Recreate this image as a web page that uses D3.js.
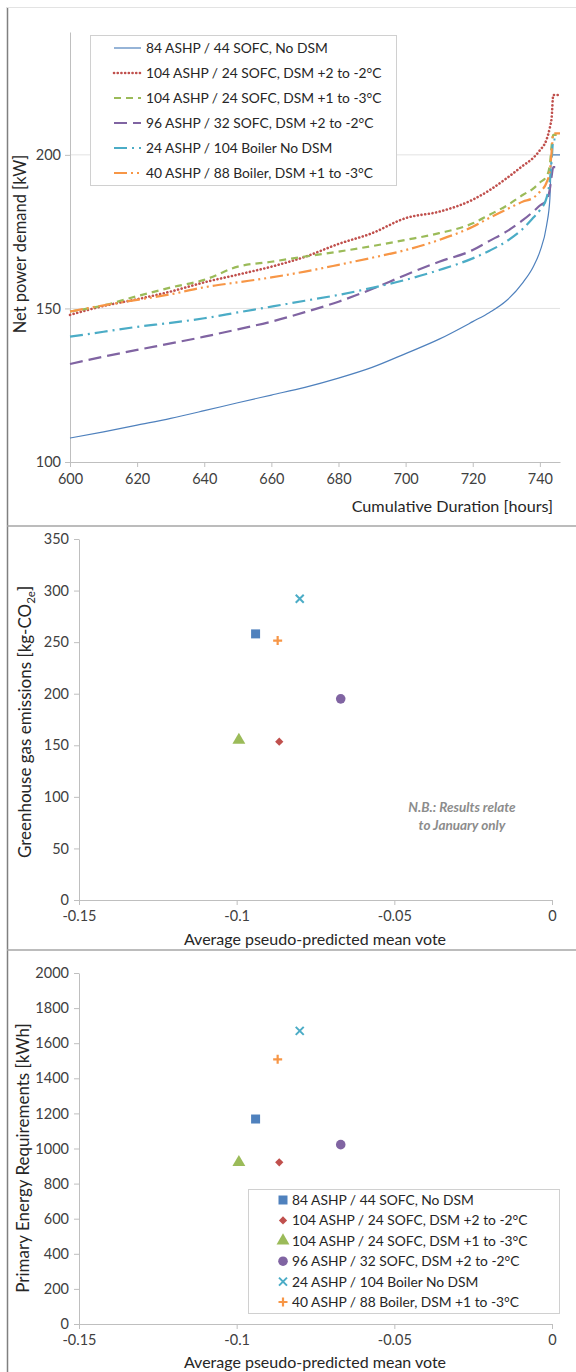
<!DOCTYPE html>
<html>
<head>
<meta charset="utf-8">
<script src="https://cdn.jsdelivr.net/npm/d3@7"></script>
<style>
  body { margin: 0; background: #fff; }
  svg { display: block; font-family: Lato, "Open Sans", sans-serif; }
</style>
</head>
<body>
<div id="chart"></div>
<script>
// series names (same order in all three panels)
var names = [
  "84 ASHP / 44 SOFC, No DSM",
  "104 ASHP / 24 SOFC, DSM +2 to -2\u00B0C",
  "104 ASHP / 24 SOFC, DSM +1 to -3\u00B0C",
  "96 ASHP / 32 SOFC, DSM +2 to -2\u00B0C",
  "24 ASHP / 104 Boiler No DSM",
  "40 ASHP / 88 Boiler, DSM +1 to -3\u00B0C"
];
var colors = ["#4F81BD", "#C0504D", "#9BBB59", "#8064A2", "#4BACC6", "#F79646"];

// load duration curves, hours 600..746
var hours = [600, 610, 620, 630, 640, 650, 660, 670, 680, 690, 700, 710, 720, 725, 730, 735, 738, 740, 742, 743, 743.5, 744, 746];
var demand84 = [107.8, 109.8, 112, 114.2, 116.7, 119.3, 121.8, 124.3, 127.3, 130.8, 135.3, 140, 145.7, 148.7, 152.5, 158.5, 163.5, 168.5, 177, 186, 200, 200, 200];
var demand104a = [147.9, 150.8, 153, 155.5, 158.5, 161, 163.6, 166.8, 171, 174.5, 179.4, 181.5, 185.4, 188.5, 192.3, 196.5, 199, 201.5, 205, 209, 212, 219.5, 219.5];
var demand104b = [149, 151, 154, 156.8, 159.3, 163.6, 165.2, 166.9, 168.5, 170.3, 172.3, 174.5, 177.7, 180.5, 183.4, 187, 189, 191, 193, 197, 203, 206.5, 206.5];
var demand96 = [131.9, 134.3, 136.5, 138.6, 140.8, 143.2, 145.7, 148.8, 152.2, 156.3, 160.9, 165.2, 169, 172, 175, 178.8, 181.5, 183.5, 185.3, 189, 193, 196, 196];
var demand24 = [140.8, 142.4, 144, 145.3, 146.8, 148.7, 150.6, 152.5, 154.4, 156.7, 159.3, 162.5, 166.3, 168.8, 171.8, 176, 179.5, 182, 186, 192, 198, 205, 205];
var demand40 = [149, 151, 152.8, 154.6, 156.9, 158.5, 160.1, 162, 164.2, 166.5, 169, 172.3, 176.6, 179.5, 182.2, 184.8, 186, 188, 191, 195, 201, 207, 207];

// scatter panels
var ppmv = [-0.094, -0.0865, -0.0993, -0.067, -0.080, -0.087];
var ghg = [258, 153.5, 155, 195, 292, 251.5];
var energy = [1168, 921, 921, 1022, 1670, 1508];

var demandTicks = [100, 150, 200];
var hourTicks = [600, 620, 640, 660, 680, 700, 720, 740];
var ghgTicks = [0, 50, 100, 150, 200, 250, 300, 350];
var energyTicks = [0, 200, 400, 600, 800, 1000, 1200, 1400, 1600, 1800, 2000];
var voteTicks = [-0.15, -0.1, -0.05, 0];

var dashes = [null, "0.1,3.6", "7,5", "13,6", "13,5,2,5", "13,4,2,4,2,4"];
var widths = [1.2, 2.6, 2.2, 2.2, 2.2, 2.2];
var shapes = ["square", "diamond", "triangle", "circle", "x", "plus"];

var svg = d3.select("#chart").append("svg")
    .attr("width", 576).attr("height", 1372);

// panel frame
svg.append("line").attr("x1", 7.5).attr("x2", 7.5).attr("y1", 7).attr("y2", 1372)
    .attr("stroke", "#808080").attr("stroke-width", 1.5);
svg.append("line").attr("x1", 7).attr("x2", 576).attr("y1", 7.5).attr("y2", 7.5)
    .attr("stroke", "#e3e3e3");
[526, 950].forEach(function (yy) {
    svg.append("line").attr("x1", 7).attr("x2", 576).attr("y1", yy).attr("y2", yy)
        .attr("stroke", "#a6a6a6").attr("stroke-width", 1.5);
});

function styleAxis(g) {
    g.select(".domain").attr("stroke", "#bfbfbf");
    g.selectAll(".tick line").attr("stroke", "#bfbfbf");
    g.selectAll(".tick text").attr("fill", "#404040")
        .style("font-size", "14.5px").style("font-family", "Lato, sans-serif");
}

// ---------- top: net power demand ----------
var x1 = d3.scaleLinear().domain([600, 746]).range([70, 560]);
var y1 = d3.scaleLinear().domain([100, 240]).range([462, 32]);

svg.append("g").selectAll("line").data([150, 200]).enter().append("line")
    .attr("x1", x1(600)).attr("x2", x1(746))
    .attr("y1", function (d) { return y1(d); }).attr("y2", function (d) { return y1(d); })
    .attr("stroke", "#e2e2e2");

svg.append("g").attr("transform", "translate(0," + y1(100) + ")")
    .call(d3.axisBottom(x1).tickValues(hourTicks).tickSize(5).tickPadding(7).tickSizeOuter(0))
    .call(styleAxis);
svg.append("g").attr("transform", "translate(" + x1(600) + ",0)")
    .call(d3.axisLeft(y1).tickValues(demandTicks).tickSize(5).tickPadding(4).tickSizeOuter(0))
    .call(styleAxis);

var series = [demand84, demand104a, demand104b, demand96, demand24, demand40];
var line = d3.line()
    .x(function (d, i) { return x1(hours[i]); })
    .y(function (d) { return y1(d); })
    .curve(d3.curveMonotoneX);

series.forEach(function (s, k) {
    svg.append("path").datum(s)
        .attr("d", line)
        .attr("fill", "none")
        .attr("stroke", colors[k])
        .attr("stroke-width", widths[k])
        .attr("stroke-dasharray", dashes[k])
        .attr("stroke-linecap", k == 1 ? "round" : "butt");
});

svg.append("text").attr("x", 553).attr("y", 512).attr("text-anchor", "end")
    .attr("fill", "#262626").style("font-size", "16.2px").text("Cumulative Duration [hours]");
svg.append("text").attr("transform", "translate(26,244) rotate(-90)").attr("text-anchor", "middle")
    .attr("fill", "#262626").style("font-size", "16.5px").text("Net power demand [kW]");

// legend
var leg = svg.append("g");
leg.append("rect").attr("x", 90.5).attr("y", 35.5).attr("width", 306).attr("height", 150)
    .attr("fill", "#fff").attr("stroke", "#d0d0d0");
names.forEach(function (n, k) {
    var yy = 48 + k * 25;
    leg.append("line").attr("x1", 114).attr("x2", 141).attr("y1", yy).attr("y2", yy)
        .attr("stroke", colors[k]).attr("stroke-width", widths[k])
        .attr("stroke-dasharray", dashes[k])
        .attr("stroke-linecap", k == 1 ? "round" : "butt");
    leg.append("text").attr("x", 146).attr("y", yy + 5).attr("fill", "#262626")
        .style("font-size", "13.8px").text(n);
});

// ---------- scatter helpers ----------
function marker(g, shape, color, cx, cy) {
    if (shape == "x") {
        var r = 4;
        g.append("path").attr("d", "M" + (cx - r) + "," + (cy - r) + "L" + (cx + r) + "," + (cy + r) +
            "M" + (cx - r) + "," + (cy + r) + "L" + (cx + r) + "," + (cy - r))
            .attr("stroke", color).attr("stroke-width", 2).attr("fill", "none");
    } else if (shape == "plus") {
        var p = 4.5;
        g.append("path").attr("d", "M" + (cx - p) + "," + cy + "L" + (cx + p) + "," + cy +
            "M" + cx + "," + (cy - p) + "L" + cx + "," + (cy + p))
            .attr("stroke", color).attr("stroke-width", 2.2).attr("fill", "none");
    } else if (shape == "diamond") {
        // excel diamond is a square turned 45 degrees
        g.append("path").attr("d", d3.symbol().type(d3.symbolSquare).size(34)())
            .attr("transform", "translate(" + cx + "," + cy + ") rotate(45)")
            .attr("fill", color);
    } else {
        var type = { square: d3.symbolSquare, triangle: d3.symbolTriangle, circle: d3.symbolCircle }[shape];
        var size = { square: 81, triangle: 72, circle: 72 }[shape];
        g.append("path").attr("d", d3.symbol().type(type).size(size)())
            .attr("transform", "translate(" + cx + "," + cy + ")")
            .attr("fill", color);
    }
}

function scatter(values, yScale, yTicks, xScale) {
    svg.append("g").attr("transform", "translate(0," + yScale(0) + ")")
        .call(d3.axisBottom(xScale).tickValues(voteTicks).tickSize(5).tickPadding(6).tickSizeOuter(0)
            .tickFormat(function (d) { return d === 0 ? "0" : String(d); }))
        .call(styleAxis);
    svg.append("g").attr("transform", "translate(" + xScale(-0.15) + ",0)")
        .call(d3.axisLeft(yScale).tickValues(yTicks).tickSize(5).tickPadding(5).tickSizeOuter(0)
            .tickFormat(d3.format("d")))
        .call(styleAxis);
    var g = svg.append("g");
    values.forEach(function (v, k) {
        marker(g, shapes[k], colors[k], xScale(ppmv[k]), yScale(v));
    });
}

// ---------- middle: greenhouse gas ----------
var xv = d3.scaleLinear().domain([-0.15, 0]).range([79, 552]);
var y2 = d3.scaleLinear().domain([0, 350]).range([900, 539]);
scatter(ghg, y2, ghgTicks, xv);

svg.append("text").attr("x", 315).attr("y", 945).attr("text-anchor", "middle")
    .attr("fill", "#262626").style("font-size", "16px").text("Average pseudo-predicted  mean vote");
var t2 = svg.append("text").attr("transform", "translate(31,722) rotate(-90)").attr("text-anchor", "middle")
    .attr("fill", "#262626").style("font-size", "17px");
t2.append("tspan").text("Greenhouse gas emissions [kg-CO");
t2.append("tspan").attr("dy", 4).style("font-size", "11.5px").text("2e");
t2.append("tspan").attr("dy", -4).text("]");

var nb = svg.append("text").attr("text-anchor", "middle").attr("fill", "#8c8c8c")
    .style("font-size", "13.5px").style("font-style", "italic").style("font-weight", "bold");
nb.append("tspan").attr("x", 462).attr("y", 812).text("N.B.: Results relate");
nb.append("tspan").attr("x", 462).attr("y", 830).text("to January only");

// ---------- bottom: primary energy ----------
var y3 = d3.scaleLinear().domain([0, 2000]).range([1324, 973]);
scatter(energy, y3, energyTicks, xv);

svg.append("text").attr("x", 315).attr("y", 1368).attr("text-anchor", "middle")
    .attr("fill", "#262626").style("font-size", "16px").text("Average pseudo-predicted  mean vote");
svg.append("text").attr("transform", "translate(29,1158) rotate(-90)").attr("text-anchor", "middle")
    .attr("fill", "#262626").style("font-size", "17px").text("Primary Energy Requirements [kWh]");

var leg2 = svg.append("g");
leg2.append("rect").attr("x", 248.5).attr("y", 1189.5).attr("width", 311).attr("height", 124)
    .attr("fill", "#fff").attr("stroke", "#d0d0d0");
names.forEach(function (n, k) {
    var yy = 1200 + k * 20.4;
    marker(leg2, shapes[k], colors[k], 283, yy);
    leg2.append("text").attr("x", 292).attr("y", yy + 5).attr("fill", "#262626")
        .style("font-size", "13.8px").text(n);
});
</script>
</body>
</html>
